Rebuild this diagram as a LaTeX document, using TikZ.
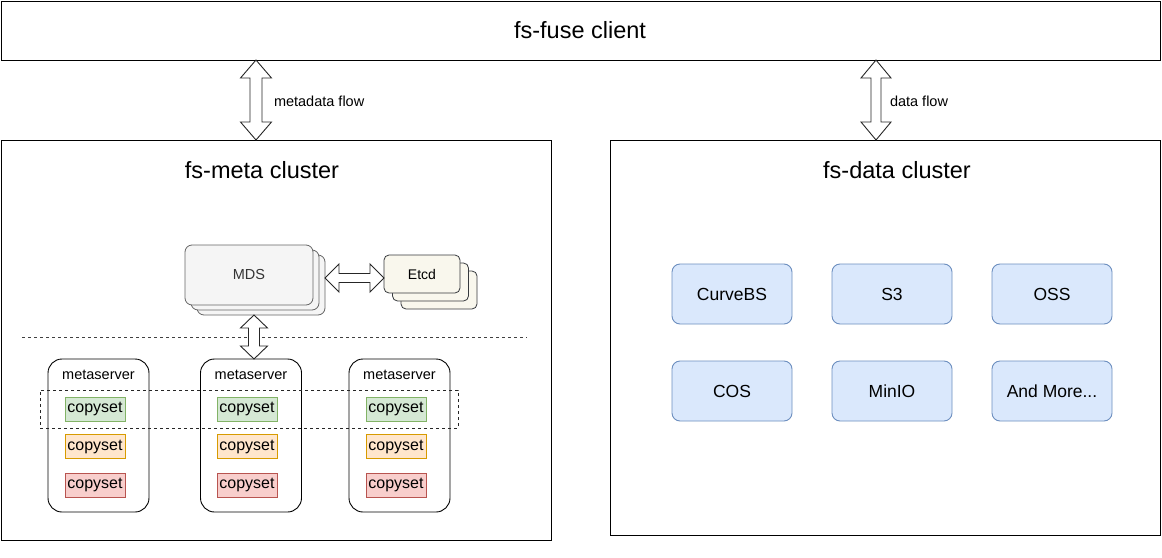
\documentclass[tikz,border=0pt]{standalone}
\usepackage{fontspec}
\setmainfont{Liberation Sans}
\usetikzlibrary{calc}
\definecolor{mdsfill}{HTML}{F5F5F5}
\definecolor{mdsline}{HTML}{666666}
\definecolor{etcdfill}{HTML}{F9F7ED}
\definecolor{etcdline}{HTML}{36393D}
\definecolor{gfill}{HTML}{D5E8D4}\definecolor{gline}{HTML}{82B366}
\definecolor{ofill}{HTML}{FFE6CC}\definecolor{oline}{HTML}{D79B00}
\definecolor{rfill}{HTML}{F8CECC}\definecolor{rline}{HTML}{B85450}
\definecolor{bfill}{HTML}{DAE8FC}\definecolor{bline}{HTML}{6C8EBF}
\definecolor{txtgray}{HTML}{333333}
\newcommand\fsz[1]{\fontsize{#1}{#1}\selectfont}
\newcommand\vdarr[5]{%
  \draw[dblarr] let \p1=#1, \p2=#2 in
    (\x1,\y1) -- (\x1+#4pt,\y1-#5pt) -- (\x1+#3pt,\y1-#5pt) -- (\x1+#3pt,\y2+#5pt)
    -- (\x1+#4pt,\y2+#5pt) -- (\x1,\y2) -- (\x1-#4pt,\y2+#5pt) -- (\x1-#3pt,\y2+#5pt)
    -- (\x1-#3pt,\y1-#5pt) -- (\x1-#4pt,\y1-#5pt) -- cycle;}
\newcommand\hdarr[5]{%
  \draw[dblarr] let \p1=#1, \p2=#2 in
    (\x1,\y1) -- (\x1+#5pt,\y1+#4pt) -- (\x1+#5pt,\y1+#3pt) -- (\x2-#5pt,\y1+#3pt)
    -- (\x2-#5pt,\y1+#4pt) -- (\x2,\y1) -- (\x2-#5pt,\y1-#4pt) -- (\x2-#5pt,\y1-#3pt)
    -- (\x1+#5pt,\y1-#3pt) -- (\x1+#5pt,\y1-#4pt) -- cycle;}
\begin{document}
\begin{tikzpicture}[x=1pt,y=-1pt,
  every node/.style={inner sep=0pt,outer sep=0pt},
  frame/.style={draw=black,line width=1pt,fill=white},
  dblarr/.style={draw=black!85,line width=0.9pt,fill=white,line join=miter},
  mdsbox/.style={draw=mdsline,fill=mdsfill,line width=0.8pt,rounded corners=7pt,minimum width=128pt,minimum height=60pt},
  etcdbox/.style={draw=etcdline,fill=etcdfill,line width=0.8pt,rounded corners=5pt,minimum width=76pt,minimum height=38pt},
  msbox/.style={draw=black,line width=0.9pt,fill=white,rounded corners=14pt,minimum width=101pt,minimum height=153pt},
  csbox/.style={line width=0.9pt,minimum width=60pt,minimum height=24pt,font=\fsz{16}},
  storebox/.style={draw=bline,fill=bfill,line width=0.9pt,rounded corners=8pt,minimum width=120pt,minimum height=60pt,font=\fsz{17.5}},
  title/.style={font=\fsz{23.5}},
  lbl/.style={font=\fsz{14.5},anchor=west}]
\useasboundingbox (0,0) rectangle (1162,557);
% frames
\node[frame,minimum width=1159pt,minimum height=59pt] (top) at (580.5,30.5) {};
\node[title] at (580,30) {fs-fuse client};
\node[frame,minimum width=550pt,minimum height=400pt] (meta) at (276,340) {};
\node[title] at (262,170) {fs-meta cluster};
\node[frame,minimum width=550pt,minimum height=395pt] (data) at (885,337.5) {};
\node[title] at (897,170) {fs-data cluster};
% flow arrows
\coordinate (mdx) at (256,0);
\coordinate (ddx) at (876,0);
\vdarr{(top.south -| mdx)}{(meta.north -| mdx)}{6}{15.5}{18}
\node[lbl] (mdl) at (274,101) {metadata flow};
\vdarr{(top.south -| ddx)}{(data.north -| ddx)}{5}{15}{18}
\node[lbl] (ddl) at (890,101) {data flow};
% MDS stack
\node[mdsbox] (mds3) at (261,285) {};
\node[mdsbox] (mds2) at (255,280) {};
\node[mdsbox,font=\fsz{14.5},text=txtgray] (mds1) at (249,275) {MDS};
% Etcd stack
\node[etcdbox] (etcd3) at (439,290) {};
\node[etcdbox] (etcd2) at (430.5,282) {};
\node[etcdbox,font=\fsz{14}] (etcd1) at (422,274) {Etcd};
% dashed separator
\coordinate (dl1) at (22,337);
\coordinate (dl2) at (527,337);
\draw[dashed,line width=0.8pt,black!75,dash pattern=on 3pt off 3pt] (dl1) -- (dl2);
% metaservers
\foreach \i/\cx/\tx in {1/98.5/95,2/251/247,3/399.5/396}{
  \node[msbox] (ms\i) at (\cx,435.5) {};
  \node[font=\fsz{14.5}] (mst\i) at (\cx,375) {metaserver};
  \node[csbox,draw=gline,fill=gfill] (csg\i) at (\tx,409) {copyset};
  \node[csbox,draw=oline,fill=ofill] (cso\i) at (\tx,446.5) {copyset};
  \node[csbox,draw=rline,fill=rfill] (csr\i) at (\tx,485) {copyset};
}
% dashed group
\node[draw=black!85,dashed,dash pattern=on 3pt off 3pt,line width=0.8pt,minimum width=418pt,minimum height=38pt] (grp) at (249,409) {};
% internal arrows
\coordinate (mvx) at (254,0);
\vdarr{(mds3.south -| mvx)}{(ms2.north -| mvx)}{5.5}{13.5}{13}
\hdarr{(mds3.east |- 0,278)}{(etcd1.west |- 0,278)}{4.5}{14}{14}
% storage backends
\node[storebox] (curve) at (732,294) {CurveBS};
\node[storebox] (s3) at (892,294) {S3};
\node[storebox] (oss) at (1052,294) {OSS};
\node[storebox] (cos) at (732,391) {COS};
\node[storebox] (minio) at (892,391) {MinIO};
\node[storebox] (more) at (1052,391) {And More...};
\end{tikzpicture}
\end{document}
